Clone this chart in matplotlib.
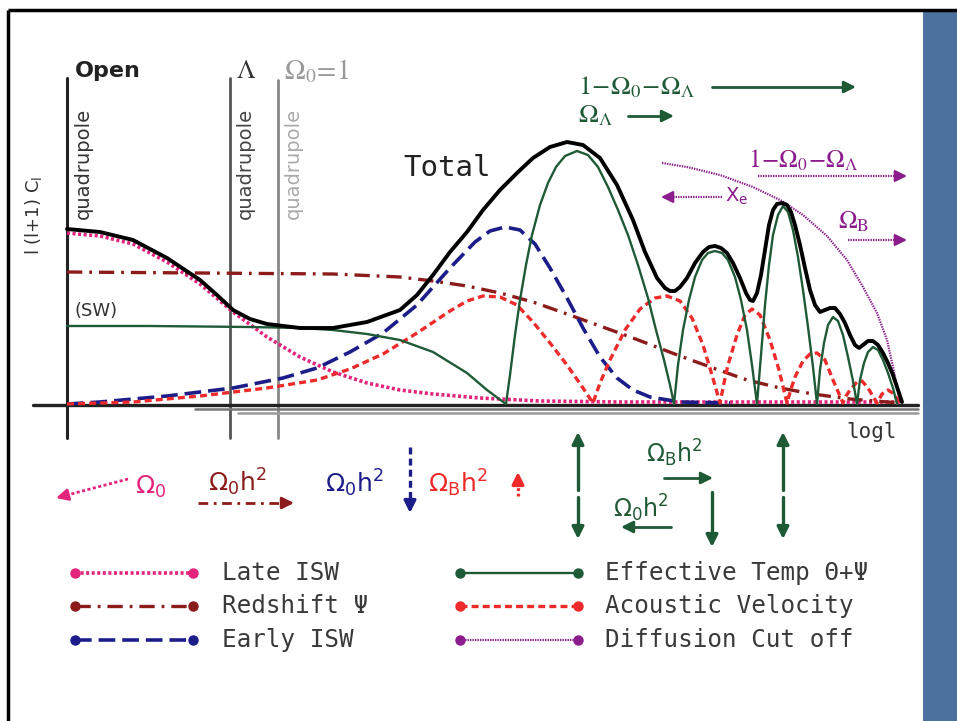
import matplotlib
matplotlib.use("Agg")
import matplotlib.pyplot as plt
from matplotlib.patches import Rectangle
import numpy as np

plt.rcParams['lines.scale_dashes'] = False
plt.rcParams['lines.solid_capstyle'] = 'round'
plt.rcParams['lines.dash_capstyle'] = 'butt'

BASE = 405  # row of the log l axis

# contributions to l(l+1)C_l : position along log l and height above the axis
total_x = [67, 100, 133, 167, 200, 217, 233, 250, 267, 300, 333, 367, 400, 417, 433, 450,
           467, 483, 500, 517, 533, 550, 567, 583, 600, 617, 633, 645, 657, 665, 670, 675,
           680, 687, 695, 703, 709, 715, 721, 727, 733, 740, 746, 750, 753, 757, 761, 765,
           769, 773, 777, 782, 787, 791, 795, 800, 805, 810, 815, 820, 825, 830, 835, 840,
           845, 850, 855, 859, 863, 868, 873, 878, 883, 888, 893, 898, 902]
total_p = [176, 173, 165, 147, 125, 110, 95, 86, 81, 77, 77, 83, 95, 110, 130, 153,
           173, 195, 215, 232, 247, 258, 263, 260, 247, 220, 185, 153, 127, 117, 114, 114,
           118, 127, 142, 153, 158, 159, 157, 152, 142, 127, 112, 105, 104, 112, 130, 155,
           180, 195, 201, 202, 200, 193, 180, 160, 137, 115, 100, 93, 95, 97, 97, 91,
           82, 70, 60, 57, 60, 64, 64, 60, 52, 42, 30, 15, 3]

temp_x = [67, 150, 250, 300, 333, 367, 400, 433, 467, 487, 506,
          510, 515, 520, 526, 532, 540, 548, 556, 565, 577, 588, 598, 608, 618, 628, 638,
          648, 656, 664, 670, 674,
          678, 683, 689, 695, 702, 708, 715, 722, 728, 735, 741, 747, 752, 757,
          761, 765, 769, 773, 778, 783, 788, 793, 798, 803, 808, 813, 817,
          820, 824, 828, 833, 838, 843, 848, 853, 857,
          860, 864, 868, 873, 878, 883, 888, 893, 897]
temp_p = [79, 79, 78, 77, 75, 71, 65, 53, 32, 15, 1,
          30, 70, 105, 140, 170, 200, 222, 238, 249, 254, 250, 238, 218, 195, 170, 140,
          107, 75, 45, 20, 1,
          40, 75, 105, 128, 145, 152, 154, 152, 145, 128, 105, 75, 40, 1,
          50, 100, 140, 170, 190, 199, 193, 175, 148, 115, 78, 38, 1,
          35, 62, 80, 88, 84, 70, 48, 24, 1,
          25, 42, 53, 58, 55, 45, 32, 17, 1]

late_x = [67, 100, 133, 167, 200, 233, 267, 300, 333, 367, 400, 433, 480, 540, 620, 900]
late_p = [172, 169, 161, 143, 121, 93, 68, 48, 33, 22, 15, 11, 7, 4, 3, 3]

redshift_x = [67, 200, 333, 400, 433, 467, 500, 533, 567, 600, 633, 680, 713, 747, 780, 813, 850, 900]
redshift_p = [133, 132, 131, 128, 124, 119, 112, 103, 91, 79, 67, 49, 37, 25, 17, 11, 6, 2]

early_x = [67, 100, 167, 233, 283, 317, 350, 383, 417, 450, 475, 490, 505, 520, 535, 550,
           567, 583, 600, 617, 633, 650, 680, 730]
early_p = [1, 3, 9, 17, 27, 37, 53, 72, 100, 137, 163, 174, 178, 175, 161, 137,
           107, 77, 48, 27, 15, 8, 3, 2]

acoustic_x = [67, 133, 200, 267, 317, 350, 383, 417, 450, 467, 483, 500, 517, 533, 550, 567,
              583, 593, 600, 610, 625, 640, 655, 667, 680, 692, 703, 712, 720, 724, 728, 737,
              745, 752, 760, 770, 779, 787, 791, 795, 803, 810, 817, 825, 833, 843, 846, 850,
              857, 862, 868, 877, 882, 888, 894, 900]
acoustic_p = [1, 3, 9, 17, 25, 36, 51, 72, 94, 104, 109, 108, 100, 83, 62, 40,
              17, 2, 22, 45, 75, 96, 107, 109, 104, 87, 60, 30, 2, 22, 40, 70,
              90, 96, 90, 65, 35, 2, 16, 28, 44, 51, 52, 45, 25, 2, 9, 15,
              23, 24, 17, 2, 11, 15, 11, 2]

diffusion_x = [662, 687, 720, 753, 782, 803, 827, 847, 863, 877, 887, 893, 898, 901]
diffusion_p = [242, 238, 230, 218, 204, 190, 169, 145, 118, 92, 65, 38, 13, 2]

legend_left = ['Late ISW', 'Redshift \u03a8', 'Early ISW']
legend_right = ['Effective Temp \u0398+\u03a8', 'Acoustic Velocity', 'Diffusion Cut off']

C_LATE = '#e3237c'
C_RED = '#8c1c1c'
C_EARLY = '#1d1d8a'
C_TEMP = '#1f5a36'
C_AC = '#ee2a2a'
C_DIF = '#8a1c8c'

S_LATE = dict(color=C_LATE, lw=2.6, dashes=(2.2, 1.8))
S_RED = dict(color=C_RED, lw=2.4, dashes=(11, 5, 2, 5))
S_EARLY = dict(color=C_EARLY, lw=2.6, dashes=(12, 5))
S_TEMP = dict(color=C_TEMP, lw=1.7)
S_AC = dict(color=C_AC, lw=2.4, dashes=(5, 3))
S_DIF = dict(color=C_DIF, lw=1.6, dashes=(1, 0.8))

fig = plt.figure(figsize=(9.57, 7.21), dpi=100)
ax = fig.add_axes([0, 0, 1, 1])
ax.set_xlim(0, 957)
ax.set_ylim(721, 0)
ax.axis('off')


def curve(xs, ps, style, z=3):
    ax.plot(xs, [BASE - p for p in ps], zorder=z, solid_joinstyle='round', **style)


def arrow(x0, y0, x1, y1, color, lw=2.0, dashes=None, head=11):
    # shaft drawn as a line, solid head on the end
    dx, dy = x1 - x0, y1 - y0
    n = np.hypot(dx, dy)
    ux, uy = dx / n, dy / n
    hx, hy = x1 - ux * head, y1 - uy * head
    kw = dict(color=color, lw=lw)
    if dashes:
        kw['dashes'] = dashes
    ax.plot([x0, hx], [y0, hy], **kw)
    ax.annotate('', xy=(x1, y1), xytext=(hx - ux, hy - uy),
                arrowprops=dict(arrowstyle='-|>,head_length=0.7,head_width=0.35',
                                color=color, lw=lw, shrinkA=0, shrinkB=0))


# frame and side strip
ax.add_patch(Rectangle((923, 11), 34, 710, color='#4d719f', lw=0, zorder=0))
ax.plot([8, 957], [10, 10], color='black', lw=2.5, solid_capstyle='butt')
ax.plot([8, 8], [10, 721], color='black', lw=2.5, solid_capstyle='butt')

# vertical quadrupole markers
ax.plot([67, 67], [78, 438], color='#222222', lw=2.2)
ax.plot([230, 230], [78, 438], color='#555555', lw=2.0)
ax.plot([278, 278], [80, 438], color='#888888', lw=2.0)

# l axis
ax.plot([33, 918], [BASE, BASE], color='#222222', lw=2.4, zorder=2)
ax.plot([195, 918], [409, 409], color='#777777', lw=1.8, zorder=2)
ax.plot([238, 918], [413, 413], color='#999999', lw=1.8, zorder=2)

curve(late_x, late_p, S_LATE)
curve(redshift_x, redshift_p, S_RED)
curve(early_x, early_p, S_EARLY)
curve(acoustic_x, acoustic_p, S_AC)
curve(diffusion_x, diffusion_p, S_DIF)
curve(temp_x, temp_p, S_TEMP, z=4)
curve(total_x, total_p, dict(color='black', lw=2.8), z=5)

# labels in the upper part
ax.text(75, 71, 'Open', fontsize=16, fontweight='bold', color='#222222', va='center')
ax.text(236, 71, r'$\Lambda$', fontsize=19, math_fontfamily='stix', color='#333333', va='center')
ax.text(284, 71, r'$\Omega_0\!=\!1$', fontsize=20, math_fontfamily='stix', color='#999999', va='center')
for qx, qc in [(83, '#333333'), (245, '#444444'), (293, '#aaaaaa')]:
    ax.text(qx, 108, 'quadrupole', rotation=90, ha='center', va='top', fontsize=14, color=qc)
ax.text(34, 215, r'l (l+1) C$_\mathregular{l}$', rotation=90, ha='center', va='center',
        fontsize=13, color='#333333')
ax.text(75, 311, '(SW)', fontsize=13, color='#333333', va='center')
ax.text(403, 168, 'Total', fontsize=21, family='DejaVu Sans Mono', color='#222222', va='center')
ax.text(846, 432, 'logl', fontsize=15, family='DejaVu Sans Mono', color='#333333', va='center')

# geometry arrows (top right)
ax.text(578, 87, r'$1\!-\!\Omega_0\!-\!\Omega_\Lambda$', fontsize=19, math_fontfamily='stix',
        color=C_TEMP, va='center')
arrow(712, 87, 856, 87, C_TEMP, lw=2.0)
ax.text(578, 115, r'$\Omega_\Lambda$', fontsize=19, math_fontfamily='stix', color=C_TEMP, va='center')
arrow(628, 116, 674, 116, C_TEMP, lw=2.0)

ax.text(748, 160, r'$1\!-\!\Omega_0\!-\!\Omega_\Lambda$', fontsize=18, math_fontfamily='stix',
        color=C_DIF, va='center')
arrow(758, 176, 907, 176, C_DIF, lw=1.6, dashes=(1, 0.8))
arrow(722, 197, 661, 197, C_DIF, lw=1.6, dashes=(1, 0.8))
ax.text(725, 196, r'X$_\mathregular{e}$', fontsize=14, color=C_DIF, va='center')
ax.text(838, 222, r'$\Omega_\mathrm{B}$', fontsize=18, math_fontfamily='stix', color=C_DIF, va='center')
arrow(848, 240, 907, 240, C_DIF, lw=1.6, dashes=(1, 0.8))

# parameter dependences below the axis
ax.text(135, 487, r'$\Omega_0$', fontsize=18, color=C_LATE, va='center')
arrow(128, 479, 56, 498, C_LATE, lw=2.0, dashes=(2.2, 1.8))
ax.text(208, 482, r'$\Omega_0\mathrm{h}^2$', fontsize=18, color=C_RED, va='center')
arrow(198, 503, 294, 503, C_RED, lw=2.0, dashes=(7, 4, 2, 4))
ax.text(325, 483, r'$\Omega_0\mathrm{h}^2$', fontsize=18, color=C_EARLY, va='center')
arrow(410, 447, 410, 513, C_EARLY, lw=2.4, dashes=(5, 3))
ax.text(428, 483, r'$\Omega_\mathrm{B}\mathrm{h}^2$', fontsize=18, color=C_AC, va='center')
arrow(518, 496, 518, 472, C_AC, lw=2.4, dashes=(2, 2), head=8)

for vx in [578, 783]:
    arrow(vx, 490, vx, 432, C_TEMP, lw=2.4)
    arrow(vx, 497, vx, 539, C_TEMP, lw=2.4)
ax.text(646, 453, r'$\Omega_\mathrm{B}\mathrm{h}^2$', fontsize=17, color=C_TEMP, va='center')
arrow(664, 478, 713, 478, C_TEMP, lw=2.0)
arrow(712, 492, 712, 547, C_TEMP, lw=2.4)
ax.text(613, 508, r'$\Omega_0\mathrm{h}^2$', fontsize=17, color=C_TEMP, va='center')
arrow(671, 527, 621, 527, C_TEMP, lw=2.0)

# key
rows = [573, 606, 640]
for ly, lab, st in zip(rows, legend_left, [S_LATE, S_RED, S_EARLY]):
    ax.plot([75, 193], [ly, ly], **st)
    ax.plot([75, 193], [ly, ly], 'o', color=st['color'], ms=6.5)
    ax.text(222, ly, lab, fontsize=17.5, family='DejaVu Sans Mono', color='#3a3a3a', va='center')
for ly, lab, st in zip(rows, legend_right, [S_TEMP, S_AC, S_DIF]):
    ax.plot([460, 578], [ly, ly], **st)
    ax.plot([460, 578], [ly, ly], 'o', color=st['color'], ms=6.5)
    ax.text(605, ly, lab, fontsize=17.5, family='DejaVu Sans Mono', color='#3a3a3a', va='center')

fig.savefig('out.png', dpi=100)
